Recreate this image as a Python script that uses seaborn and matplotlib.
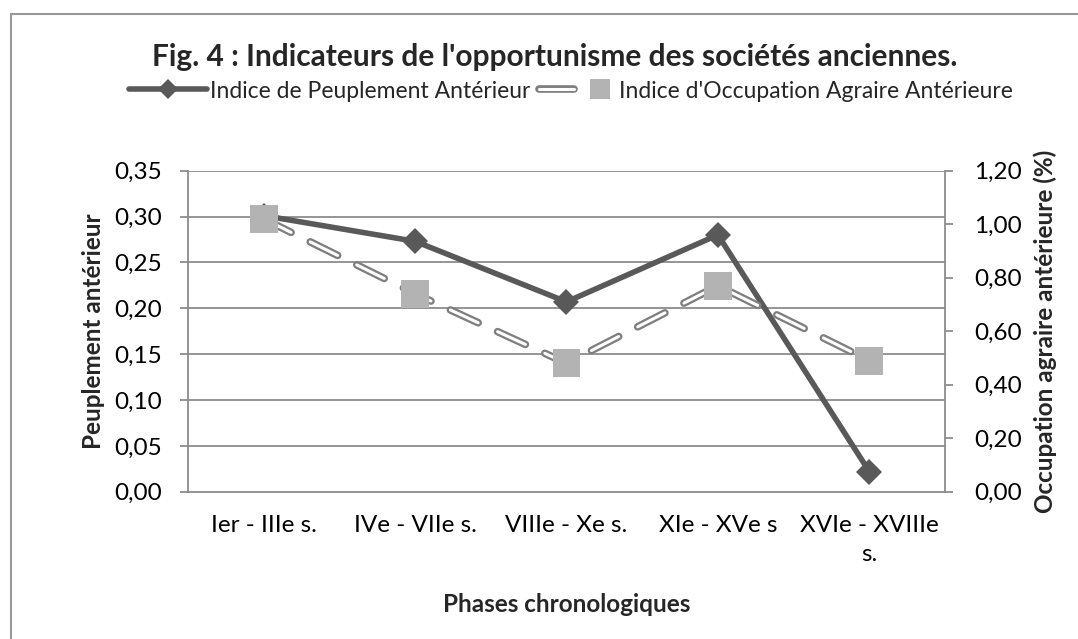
import numpy as np
import pandas as pd
import matplotlib
matplotlib.use("Agg")
import matplotlib.pyplot as plt
import matplotlib.patheffects as pe
from matplotlib.lines import Line2D
from matplotlib.legend_handler import HandlerTuple
import seaborn as sns

# data
phases = ["Ier - IIIe s.", "IVe - VIIe s.", "VIIIe - Xe s.", "XIe - XVe s", "XVIe - XVIIIe\ns."]
peuplement = [0.301, 0.273, 0.207, 0.280, 0.022]
occupation = [1.02, 0.74, 0.48, 0.77, 0.49]
left_ticks = [0.00, 0.05, 0.10, 0.15, 0.20, 0.25, 0.30, 0.35]
right_ticks = [0.00, 0.20, 0.40, 0.60, 0.80, 1.00, 1.20]

df = pd.DataFrame({"phase": phases, "peuplement": peuplement, "occupation": occupation})
df["pos"] = np.arange(len(df))

sns.set_theme(style="white")
plt.rcParams["font.family"] = ["Lato", "DejaVu Sans"]

dark = "#595959"
light = "#b3b3b3"
grid = "#8c8c8c"
fs = 17.5

fig = plt.figure(figsize=(10.78, 6.39), dpi=100)
ax = fig.add_axes([0.1744, 0.2305, 0.7022, 0.5024])

# gridlines
for t in left_ticks[1:]:
    ax.axhline(t, color=grid, lw=1.3, zorder=0)

sns.lineplot(data=df, x="pos", y="peuplement", ax=ax, color=dark, lw=4,
             marker="D", markersize=13, markeredgewidth=0, zorder=3)

ax2 = ax.twinx()
# double-line dashed series
sns.lineplot(data=df, x="pos", y="occupation", ax=ax2, color="white", lw=2.2,
             dashes=False, zorder=2,
             path_effects=[pe.Stroke(linewidth=5.5, foreground="#7f7f7f"), pe.Normal()])
l2 = ax2.lines[-1]
l2.set_dashes((10, 7))
l2.set_dash_capstyle("round")
sns.scatterplot(data=df, x="pos", y="occupation", ax=ax2, marker="s", s=400,
                color=light, edgecolor="none", zorder=4)

ax.set_xlim(-0.5, len(phases) - 0.5)
ax.set_ylim(0, 0.35)
ax2.set_ylim(0, 1.20)
ax.set_yticks(left_ticks)
ax.set_yticklabels([f"{t:.2f}".replace(".", ",") for t in left_ticks])
ax2.set_yticks(right_ticks)
ax2.set_yticklabels([f"{t:.2f}".replace(".", ",") for t in right_ticks])
ax.set_xticks(df["pos"])
ax.set_xticklabels(phases, va="top", ha="center", linespacing=1.45)
ax.set_xticks(np.arange(-0.5, len(phases)), minor=True)

for a in (ax, ax2):
    for s in a.spines.values():
        s.set_visible(False)
    a.tick_params(axis="both", labelsize=fs, colors=grid, labelcolor="black")
ax.spines["left"].set_visible(True)
ax.spines["bottom"].set_visible(True)
ax2.spines["right"].set_visible(True)
for s in (ax.spines["left"], ax.spines["bottom"], ax2.spines["right"]):
    s.set_color(grid)
    s.set_linewidth(1.3)
ax.tick_params(axis="x", which="major", length=0, pad=17)
ax.tick_params(axis="x", which="minor", length=6, width=1.3, color=grid, direction="out")
ax.tick_params(axis="y", length=6, width=1.3, direction="out", left=True, pad=12.5)
ax2.tick_params(axis="y", length=6, width=1.3, direction="out", right=True, pad=15)

ax.set_xlabel("Phases chronologiques", fontsize=fs, fontweight="bold", labelpad=20)
ax.set_ylabel("Peuplement antérieur", fontsize=fs, fontweight="bold", labelpad=7)
ax2.set_ylabel("Occupation agraire antérieure (%)", fontsize=fs, fontweight="bold", labelpad=8)

fig.text(0.515, 1 - 57 / 639, "Fig. 4 : Indicateurs de l'opportunisme des sociétés anciennes.",
         ha="center", va="center", fontsize=21.5, fontweight="bold")

h1 = Line2D([], [], color=dark, lw=4, marker="D", markersize=10, markeredgewidth=0)
h2a = Line2D([], [], color="white", lw=2.2,
             path_effects=[pe.Stroke(linewidth=5.5, foreground="#7f7f7f"), pe.Normal()])
h2b = Line2D([], [], color=light, lw=0, marker="s", markersize=14, markeredgewidth=0)
fig.legend([h1, (h2a, h2b)],
           ["Indice de Peuplement Antérieur", "Indice d'Occupation Agraire Antérieure"],
           handler_map={tuple: HandlerTuple(ndivide=None)},
           loc="center", bbox_to_anchor=(0.53, 1 - 91 / 639), ncol=2, frameon=False,
           fontsize=16.5, handlelength=3.4, handletextpad=0.1, columnspacing=0.4)

# outer frame (left and top edges visible)
fig.add_artist(Line2D([10.5 / 1078, 10.5 / 1078], [0, 1 - 14 / 639], color="#999999", lw=1.5))
fig.add_artist(Line2D([10.5 / 1078, 1], [1 - 14 / 639, 1 - 14 / 639], color="#999999", lw=1.5))

fig.savefig("out.png", dpi=100, facecolor="white")
